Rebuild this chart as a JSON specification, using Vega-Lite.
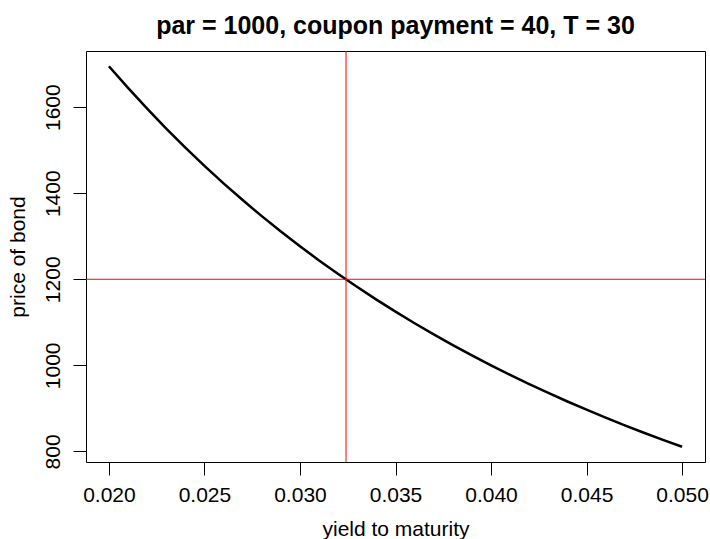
{
  "$schema": "https://vega.github.io/schema/vega-lite/v6.json",
  "width": 619,
  "height": 411,
  "autosize": {"type": "none"},
  "padding": {"left": 86, "top": 51, "right": 5, "bottom": 77},
  "background": "white",
  "config": {
    "font": "Liberation Sans",
    "view": {"stroke": "black", "strokeWidth": 1},
    "axis": {"grid": false, "domain": false, "tickColor": "black", "tickSize": 13, "labelColor": "black", "titleColor": "black", "labelFont": "Liberation Sans", "titleFont": "Liberation Sans", "labelFontSize": 21, "titleFontSize": 21, "titleFontWeight": "normal"}
  },
  "title": {
    "text": "par = 1000, coupon payment = 40, T = 30",
    "font": "Liberation Sans",
    "fontSize": 25,
    "fontWeight": "bold",
    "color": "black",
    "anchor": "middle",
    "offset": 12
  },
  "datasets": {
    "bond": [
      {"yield": 0.020, "price": 1695.2},
      {"yield": 0.021, "price": 1644.75},
      {"yield": 0.022, "price": 1596.47},
      {"yield": 0.023, "price": 1550.25},
      {"yield": 0.024, "price": 1506.01},
      {"yield": 0.025, "price": 1463.63},
      {"yield": 0.026, "price": 1423.03},
      {"yield": 0.027, "price": 1384.13},
      {"yield": 0.028, "price": 1346.83},
      {"yield": 0.029, "price": 1311.07},
      {"yield": 0.030, "price": 1276.76},
      {"yield": 0.031, "price": 1243.83},
      {"yield": 0.032, "price": 1212.23},
      {"yield": 0.033, "price": 1181.88},
      {"yield": 0.034, "price": 1152.73},
      {"yield": 0.035, "price": 1124.72},
      {"yield": 0.036, "price": 1097.80},
      {"yield": 0.037, "price": 1071.91},
      {"yield": 0.038, "price": 1047.02},
      {"yield": 0.039, "price": 1023.06},
      {"yield": 0.040, "price": 1000.0},
      {"yield": 0.041, "price": 977.80},
      {"yield": 0.042, "price": 956.41},
      {"yield": 0.043, "price": 935.81},
      {"yield": 0.044, "price": 915.95},
      {"yield": 0.045, "price": 896.81},
      {"yield": 0.046, "price": 878.35},
      {"yield": 0.047, "price": 860.53},
      {"yield": 0.048, "price": 843.33},
      {"yield": 0.049, "price": 826.74},
      {"yield": 0.050, "price": 810.71}
    ],
    "vline": [{"yield": 0.03241}],
    "hline": [{"price": 1200}]
  },
  "layer": [
    {
      "data": {"name": "bond"},
      "mark": {"type": "line", "color": "black", "strokeWidth": 2.5, "clip": true},
      "encoding": {
        "x": {
          "field": "yield", "type": "quantitative",
          "scale": {"domain": [0.0188, 0.0512], "nice": false, "zero": false},
          "axis": {"title": "yield to maturity", "values": [0.02, 0.025, 0.03, 0.035, 0.04, 0.045, 0.05], "format": ".3f", "labelPadding": 9, "titlePadding": 13, "labelFlush": false}
        },
        "y": {
          "field": "price", "type": "quantitative",
          "scale": {"domain": [775.3, 1730.6], "nice": false, "zero": false},
          "axis": {"title": "price of bond", "values": [800, 1000, 1200, 1400, 1600], "format": "d", "labelAngle": 270, "labelAlign": "center", "labelBaseline": "alphabetic", "labelPadding": 14, "titlePadding": 14, "labelFlush": false}
        }
      }
    },
    {
      "data": {"name": "vline"},
      "mark": {"type": "rule", "color": "#ff0000", "strokeWidth": 1},
      "encoding": {"x": {"field": "yield", "type": "quantitative"}}
    },
    {
      "data": {"name": "hline"},
      "mark": {"type": "rule", "color": "#ff0000", "strokeWidth": 1},
      "encoding": {"y": {"field": "price", "type": "quantitative"}}
    }
  ]
}
